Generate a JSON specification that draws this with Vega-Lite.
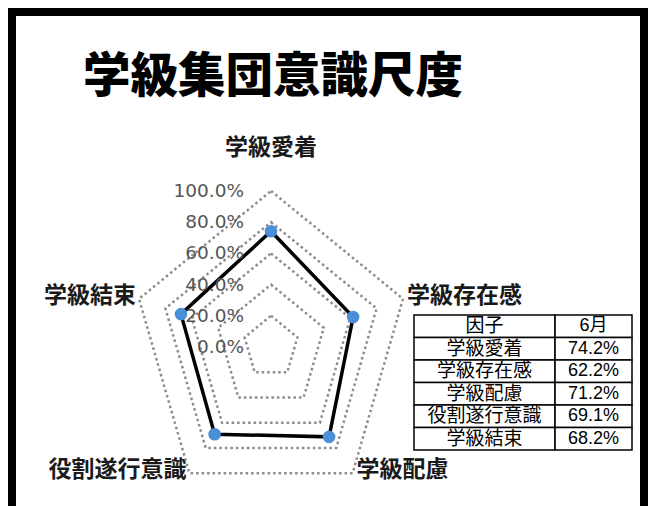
{
  "$schema": "https://vega.github.io/schema/vega-lite/v6.json",
  "autosize": {"type": "none"},
  "padding": {"left": 12, "top": 12, "right": 4, "bottom": 0},
  "width": 632,
  "height": 494,
  "background": "white",
  "config": {
    "view": {"stroke": "black", "strokeWidth": 8, "strokeDash": [1126, 632, 494], "strokeCap": "square"}
  },
  "title": {
    "text": "学級集団意識尺度",
    "anchor": "start",
    "font": "Noto Sans CJK JP",
    "fontSize": 47.5,
    "fontWeight": 900,
    "color": "black",
    "baseline": "top",
    "offset": 0,
    "dx": 71,
    "dy": 89
  },
  "datasets": {
    "factors": [
      {"factor": "学級愛着", "k": 0, "value": 0.742},
      {"factor": "学級存在感", "k": 1, "value": 0.622},
      {"factor": "学級配慮", "k": 2, "value": 0.712},
      {"factor": "役割遂行意識", "k": 3, "value": 0.691},
      {"factor": "学級結束", "k": 4, "value": 0.682}
    ],
    "grid": [
      {"level": 0.2, "k": 0}, {"level": 0.2, "k": 1}, {"level": 0.2, "k": 2}, {"level": 0.2, "k": 3}, {"level": 0.2, "k": 4},
      {"level": 0.4, "k": 0}, {"level": 0.4, "k": 1}, {"level": 0.4, "k": 2}, {"level": 0.4, "k": 3}, {"level": 0.4, "k": 4},
      {"level": 0.6, "k": 0}, {"level": 0.6, "k": 1}, {"level": 0.6, "k": 2}, {"level": 0.6, "k": 3}, {"level": 0.6, "k": 4},
      {"level": 0.8, "k": 0}, {"level": 0.8, "k": 1}, {"level": 0.8, "k": 2}, {"level": 0.8, "k": 3}, {"level": 0.8, "k": 4},
      {"level": 1.0, "k": 0}, {"level": 1.0, "k": 1}, {"level": 1.0, "k": 2}, {"level": 1.0, "k": 3}, {"level": 1.0, "k": 4}
    ],
    "ticks": [
      {"level": 0}, {"level": 0.2}, {"level": 0.4}, {"level": 0.6}, {"level": 0.8}, {"level": 1.0}
    ],
    "table": [
      {"factor": "因子", "june": "6月"},
      {"factor": "学級愛着", "june": "74.2%"},
      {"factor": "学級存在感", "june": "62.2%"},
      {"factor": "学級配慮", "june": "71.2%"},
      {"factor": "役割遂行意識", "june": "69.1%"},
      {"factor": "学級結束", "june": "68.2%"}
    ]
  },
  "layer": [
    {
      "layer": [
        {
          "data": {"name": "grid"},
          "transform": [
            {"calculate": "datum.level * sin(datum.k * 2 * PI / 5)", "as": "x"},
            {"calculate": "datum.level * cos(datum.k * 2 * PI / 5)", "as": "y"}
          ],
          "mark": {"type": "line", "interpolate": "linear-closed", "color": "#8c8c8c", "strokeWidth": 2.5, "strokeDash": [2.5, 3]},
          "encoding": {
            "x": {"field": "x", "type": "quantitative", "scale": {"domain": [-1, 1], "range": [120.2, 397.8], "nice": false, "zero": false}, "axis": null},
            "y": {"field": "y", "type": "quantitative", "scale": {"domain": [-1, 1], "range": [491, 179], "nice": false, "zero": false}, "axis": null},
            "detail": {"field": "level", "type": "nominal"},
            "order": {"field": "k", "type": "quantitative"}
          }
        },
        {
          "data": {"name": "factors"},
          "transform": [
            {"calculate": "datum.value * sin(datum.k * 2 * PI / 5)", "as": "x"},
            {"calculate": "datum.value * cos(datum.k * 2 * PI / 5)", "as": "y"}
          ],
          "mark": {"type": "line", "interpolate": "linear-closed", "color": "black", "strokeWidth": 3.5},
          "encoding": {
            "x": {"field": "x", "type": "quantitative", "axis": null},
            "y": {"field": "y", "type": "quantitative", "axis": null},
            "order": {"field": "k", "type": "quantitative"}
          }
        },
        {
          "data": {"name": "factors"},
          "transform": [
            {"calculate": "datum.value * sin(datum.k * 2 * PI / 5)", "as": "x"},
            {"calculate": "datum.value * cos(datum.k * 2 * PI / 5)", "as": "y"}
          ],
          "mark": {"type": "point", "filled": true, "size": 160, "color": "#4A8FD8", "opacity": 1},
          "encoding": {
            "x": {"field": "x", "type": "quantitative", "axis": null},
            "y": {"field": "y", "type": "quantitative", "axis": null}
          }
        },
        {
          "data": {"name": "ticks"},
          "mark": {"type": "text", "align": "right", "baseline": "middle", "dx": -27, "font": "DejaVu Sans", "fontSize": 18.5, "color": "#555555"},
          "encoding": {
            "x": {"datum": 0, "type": "quantitative", "axis": null},
            "y": {"field": "level", "type": "quantitative", "axis": null},
            "text": {"field": "level", "type": "quantitative", "format": ".1%"}
          }
        },
        {
          "data": {"name": "factors"},
          "transform": [
            {"filter": "datum.k == 0"},
            {"calculate": "sin(datum.k * 2 * PI / 5)", "as": "x"},
            {"calculate": "cos(datum.k * 2 * PI / 5)", "as": "y"}
          ],
          "mark": {"type": "text", "align": "center", "baseline": "middle", "dy": -43, "font": "Noto Sans CJK JP", "fontWeight": "bold", "fontSize": 23, "color": "#1a1a1a"},
          "encoding": {
            "x": {"field": "x", "type": "quantitative", "axis": null},
            "y": {"field": "y", "type": "quantitative", "axis": null},
            "text": {"field": "factor", "type": "nominal"}
          }
        },
        {
          "data": {"name": "factors"},
          "transform": [
            {"filter": "datum.k == 1 || datum.k == 2"},
            {"calculate": "sin(datum.k * 2 * PI / 5)", "as": "x"},
            {"calculate": "cos(datum.k * 2 * PI / 5)", "as": "y"}
          ],
          "mark": {"type": "text", "align": "left", "baseline": "middle", "dx": 4, "dy": -3, "font": "Noto Sans CJK JP", "fontWeight": "bold", "fontSize": 23, "color": "#1a1a1a"},
          "encoding": {
            "x": {"field": "x", "type": "quantitative", "axis": null},
            "y": {"field": "y", "type": "quantitative", "axis": null},
            "text": {"field": "factor", "type": "nominal"}
          }
        },
        {
          "data": {"name": "factors"},
          "transform": [
            {"filter": "datum.k == 3 || datum.k == 4"},
            {"calculate": "sin(datum.k * 2 * PI / 5)", "as": "x"},
            {"calculate": "cos(datum.k * 2 * PI / 5)", "as": "y"}
          ],
          "mark": {"type": "text", "align": "right", "baseline": "middle", "dx": -3, "dy": -3, "font": "Noto Sans CJK JP", "fontWeight": "bold", "fontSize": 23, "color": "#1a1a1a"},
          "encoding": {
            "x": {"field": "x", "type": "quantitative", "axis": null},
            "y": {"field": "y", "type": "quantitative", "axis": null},
            "text": {"field": "factor", "type": "nominal"}
          }
        }
      ]
    },
    {
      "data": {"name": "table"},
      "layer": [
        {
          "mark": {"type": "rect", "fill": "white", "stroke": "black", "strokeWidth": 1.5},
          "encoding": {
            "x": {"datum": 0, "type": "quantitative", "scale": {"domain": [0, 1], "range": [402, 620], "nice": false, "zero": false}, "axis": null},
            "x2": {"datum": 0.647},
            "y": {"field": "factor", "type": "nominal", "sort": null, "scale": {"domain": ["因子", "学級愛着", "学級存在感", "学級配慮", "役割遂行意識", "学級結束"], "range": [303, 438], "paddingInner": 0, "paddingOuter": 0}, "axis": null}
          }
        },
        {
          "mark": {"type": "rect", "fill": "white", "stroke": "black", "strokeWidth": 1.5},
          "encoding": {
            "x": {"datum": 0.647, "type": "quantitative", "axis": null},
            "x2": {"datum": 1},
            "y": {"field": "factor", "type": "nominal", "sort": null, "axis": null}
          }
        },
        {
          "mark": {"type": "text", "align": "center", "baseline": "middle", "font": "Liberation Sans, Noto Sans CJK JP", "fontSize": 19, "color": "black"},
          "encoding": {
            "x": {"datum": 0.3235, "type": "quantitative", "axis": null},
            "y": {"field": "factor", "type": "nominal", "sort": null, "axis": null},
            "text": {"field": "factor", "type": "nominal"}
          }
        },
        {
          "mark": {"type": "text", "align": "center", "baseline": "middle", "font": "Liberation Sans, Noto Sans CJK JP", "fontSize": 18, "color": "black"},
          "encoding": {
            "x": {"datum": 0.8235, "type": "quantitative", "axis": null},
            "y": {"field": "factor", "type": "nominal", "sort": null, "axis": null},
            "text": {"field": "june", "type": "nominal"}
          }
        }
      ]
    }
  ],
  "resolve": {"scale": {"x": "independent", "y": "independent"}}
}
